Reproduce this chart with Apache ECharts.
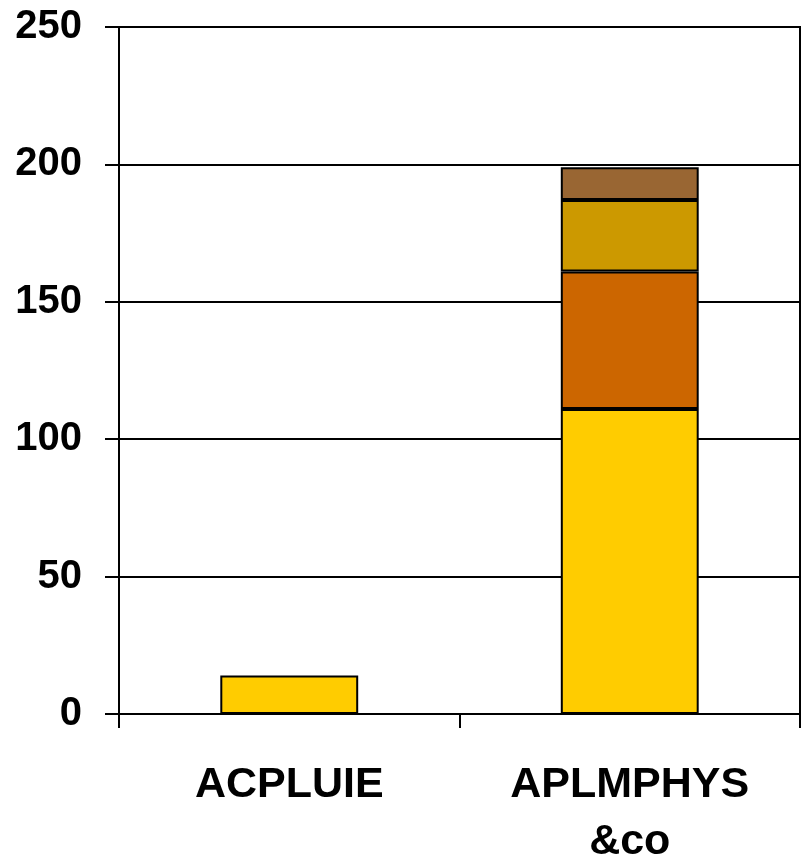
<!DOCTYPE html>
<html>
<head>
<meta charset="utf-8">
<script src="https://cdn.jsdelivr.net/npm/echarts@6/dist/echarts.min.js"></script>
<style>
  html, body { margin: 0; padding: 0; background: #ffffff; }
  #chart { width: 804px; height: 857px; }
</style>
</head>
<body>
<div id="chart"></div>
<script>
// Categories on the x axis
const categories = ['ACPLUIE', 'APLMPHYS\n&co'];
// Stacked segments, bottom to top
const seriesYellow = [14, 111];
const seriesOrange = [null, 50];
const seriesGold = [null, 26];
const seriesBrown = [null, 12];
// Y axis range
const yMin = 0;
const yMax = 250;
const yStep = 50;

const colors = ['#FFCC00', '#CC6600', '#CC9900', '#996633'];
const stacks = [seriesYellow, seriesOrange, seriesGold, seriesBrown];

const chart = echarts.init(document.getElementById('chart'), null, { renderer: 'canvas' });

chart.setOption({
  animation: false,
  backgroundColor: '#ffffff',
  grid: {
    left: 119, right: 4, top: 27, bottom: 143,
    containLabel: false,
    outerBoundsMode: 'none',
    show: true, borderColor: '#000000', borderWidth: 2,
    backgroundColor: 'transparent'
  },
  xAxis: {
    type: 'category',
    data: categories,
    boundaryGap: true,
    axisLine: { lineStyle: { color: '#000000', width: 2 } },
    axisTick: { show: true, length: 14, alignWithLabel: false, lineStyle: { color: '#000000', width: 2 } },
    axisLabel: {
      margin: 43,
      fontFamily: 'Liberation Sans, Arial, sans-serif',
      fontWeight: 'bold',
      fontSize: 43,
      lineHeight: 57,
      verticalAlign: 'top',
      color: '#000000'
    }
  },
  yAxis: {
    type: 'value',
    min: yMin, max: yMax, interval: yStep,
    axisLine: { show: true, lineStyle: { color: '#000000', width: 2 } },
    axisTick: { show: true, length: 14, lineStyle: { color: '#000000', width: 2 } },
    splitLine: { show: true, lineStyle: { color: '#000000', width: 2 } },
    axisLabel: {
      margin: 37,
      fontFamily: 'Liberation Sans, Arial, sans-serif',
      fontWeight: 'bold',
      fontSize: 40,
      color: '#000000'
    }
  },
  series: stacks.map((d, i) => ({
    type: 'bar',
    stack: 'total',
    data: d,
    barWidth: '40.5%',
    itemStyle: { color: colors[i], borderColor: '#000000', borderWidth: 2 }
  }))
});
</script>
</body>
</html>
